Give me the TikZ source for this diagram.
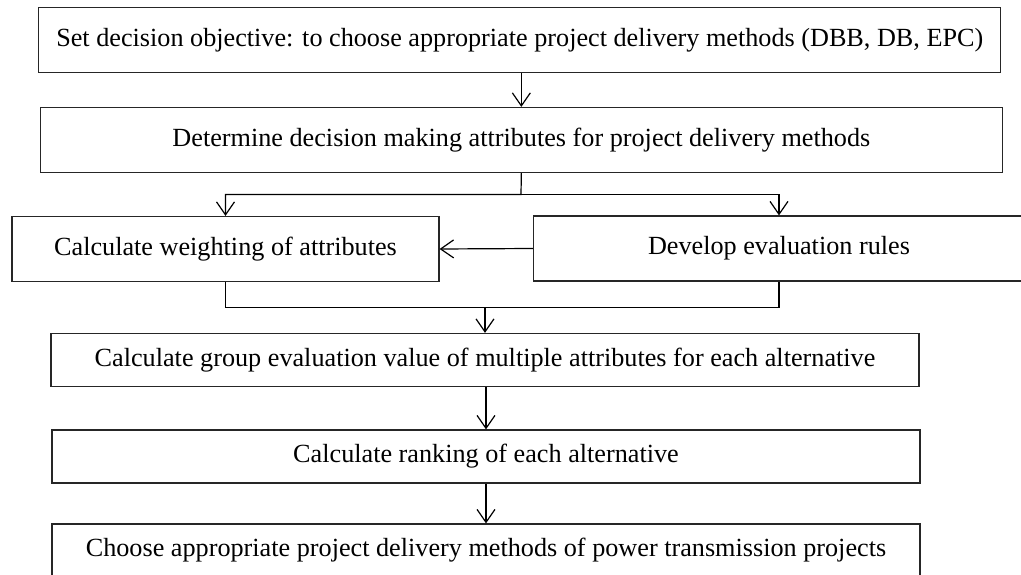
\documentclass[tikz,border=0pt]{standalone}
\usepackage{fontspec}
\setmainfont{Liberation Serif}
\usepackage{tikz}
\usetikzlibrary{arrows.meta, positioning}

\begin{document}
\begin{tikzpicture}[>={Straight Barb[length=13pt, width=18pt]}, x=1pt, y=-1pt, line width=1.2pt]
\tikzstyle{stage}=[draw=black!85, line width=1.2pt, inner sep=0pt, font=\fontsize{26.2}{30}\selectfont]

\useasboundingbox (0,0) rectangle (1021,575);
\clip (0,0) rectangle (1021,575);

\node[stage, minimum width=962pt, minimum height=65pt] (objective) at (519.75,40) {Set decision objective: to choose appropriate project delivery methods (DBB, DB, EPC)};
\node[stage, minimum width=962pt, minimum height=65pt] (attributes) at (521.35,140) {Determine decision making attributes for project delivery methods};
\node[stage, minimum width=427pt, minimum height=65pt] (weights) at (225.5,249) {Calculate weighting of attributes};
\node[stage, minimum width=491pt, minimum height=65pt] (rules) at (779,248.5) {Develop evaluation rules};
\node[stage, minimum width=868pt, minimum height=53pt] (group) at (485,360) {Calculate group evaluation value of multiple attributes for each alternative};
\node[stage, minimum width=868pt, minimum height=53pt] (ranking) at (486,456.5) {Calculate ranking of each alternative};
\node[stage, minimum width=868pt, minimum height=53pt] (choice) at (486,550.5) {Choose appropriate project delivery methods of power transmission projects};

\coordinate (fork) at (521,194.5);
\coordinate (merge) at (485,307.5);

\draw[->] (attributes.north |- objective.south) -- (attributes.north);
\draw[->] (attributes.south) -- (fork) -| (weights.north);
\draw[->] (fork) -| (rules.north);
\draw[->] (rules.west) -- (weights.east);
\draw (weights.south) |- (merge) -| (rules.south);
\draw[->] (merge) -- (group.north);
\draw[->] (group.south -| ranking.north) -- (ranking.north);
\draw[->] (ranking.south) -- (choice.north);
\end{tikzpicture}
\end{document}
